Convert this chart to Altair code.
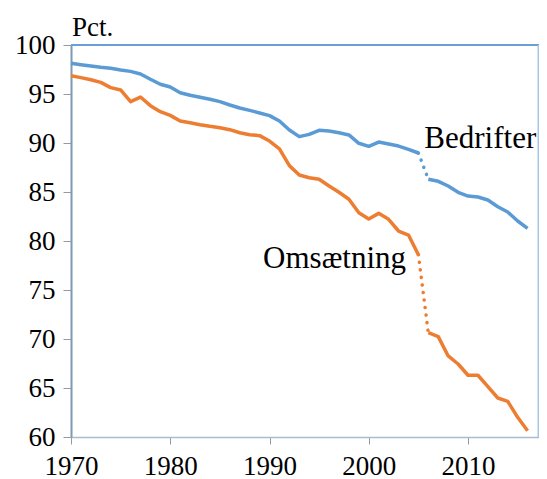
import altair as alt
import pandas as pd

years = list(range(1970, 2017))
bedrifter = [98.13, 97.99, 97.86, 97.72, 97.62, 97.45, 97.31, 97.04, 96.5, 95.99,
             95.71, 95.13, 94.87, 94.66, 94.46, 94.22, 93.88, 93.57, 93.33, 93.06,
             92.79, 92.24, 91.33, 90.65, 90.88, 91.3, 91.22, 91.05, 90.82, 89.97,
             89.66, 90.1, 89.9, 89.69, 89.35, 88.98, 86.3, 86.09, 85.61, 84.97,
             84.59, 84.49, 84.18, 83.5, 82.96, 82.04, 81.29]
omsaetning = [96.87, 96.67, 96.46, 96.19, 95.65, 95.41, 94.22, 94.69, 93.81, 93.2,
              92.82, 92.24, 92.07, 91.87, 91.7, 91.56, 91.36, 91.05, 90.85, 90.75,
              90.2, 89.39, 87.69, 86.73, 86.46, 86.3, 85.61, 84.97, 84.26, 82.89,
              82.24, 82.82, 82.21, 81.02, 80.61, 78.6, 70.64, 70.24, 68.27, 67.45,
              66.3, 66.3, 65.14, 63.98, 63.64, 62.01, 60.64]
series_names = ["Bedrifter", "Omsætning"]
series_colors = ["#5B9BD5", "#ED7D31"]
break_years = [2005, 2006]

label_text = ["Bedrifter", "Omsætning"]
label_x = [2005.6, 1989.35]
label_y = [89.5, 77.25]

y_ticks = [60, 65, 70, 75, 80, 85, 90, 95, 100]
x_ticks = [1970, 1980, 1990, 2000, 2010]

rows = []
for name, vals in zip(series_names, [bedrifter, omsaetning]):
    for yr, v in zip(years, vals):
        seg = "pre" if yr <= break_years[0] else "post"
        rows.append({"year": yr, "value": v, "series": name, "seg": seg})
        if yr in break_years:
            rows.append({"year": yr, "value": v, "series": name, "seg": "gap"})
df = pd.DataFrame(rows)
labels = pd.DataFrame({"text": label_text, "x": label_x, "y": label_y})

FONT = "Times New Roman, Liberation Serif, DejaVu Serif, serif"
W, H = 468, 392

x_enc = alt.X("year:Q", scale=alt.Scale(domain=[1970, 2017.15], nice=False, zero=False),
              axis=alt.Axis(values=x_ticks, format="d", title=None, grid=False,
                            tickSize=7, tickColor="#999999", domainColor="#A9BCD0",
                            domainWidth=1.5, labelFontSize=27, labelFont=FONT,
                            labelColor="black", labelPadding=30,
                            labelBaseline="alphabetic", labelFlush=False))
y_enc = alt.Y("value:Q", scale=alt.Scale(domain=[60, 100], nice=False, zero=False),
              axis=alt.Axis(values=y_ticks, title=None, grid=False,
                            tickSize=8, tickColor="#999999", domainColor="#7F99B6",
                            domainWidth=2, labelFontSize=27, labelFont=FONT,
                            labelColor="black", labelPadding=8))
color_enc = alt.Color("series:N", scale=alt.Scale(domain=series_names, range=series_colors),
                      legend=None)

one = alt.Chart(labels).transform_filter(alt.datum.text == "Bedrifter")
top_border = one.mark_rule(color="#6A9FD6", strokeWidth=2).encode(
    x=alt.value(0), x2=alt.value(W), y=alt.value(0))
right_border = one.mark_rule(color="#A8C6E8", strokeWidth=1.5).encode(
    x=alt.value(W - 0.75), y=alt.value(0), y2=alt.value(H))

base = alt.Chart(df)
solid = base.transform_filter(alt.datum.seg != "gap").mark_line(
    strokeWidth=3.5, strokeJoin="round").encode(
    x=x_enc, y=y_enc, color=color_enc, detail="seg:N")
dotted = base.transform_filter(alt.datum.seg == "gap").mark_line(
    strokeWidth=3.5, strokeDash=[0.1, 7.5], strokeCap="round").encode(
    x="year:Q", y="value:Q", color=color_enc, detail="series:N")

text = alt.Chart(labels).mark_text(font=FONT, fontSize=31, align="left",
                                   baseline="alphabetic", color="black").encode(
    x="x:Q", y="y:Q", text="text:N")
pct = one.mark_text(
    font=FONT, fontSize=27, align="left", baseline="alphabetic", color="black").encode(
    x=alt.value(1), y=alt.value(-9), text=alt.value("Pct."))

chart = alt.layer(solid, dotted, top_border, right_border, text, pct).properties(
    width=W, height=H,
    background="white",
    autosize=alt.AutoSizeParams(type="none"),
    padding={"left": 63, "top": 37, "right": 0, "bottom": 42},
).configure_view(stroke=None)

chart.save("out.html", embed_options={"renderer": "svg", "actions": False})
